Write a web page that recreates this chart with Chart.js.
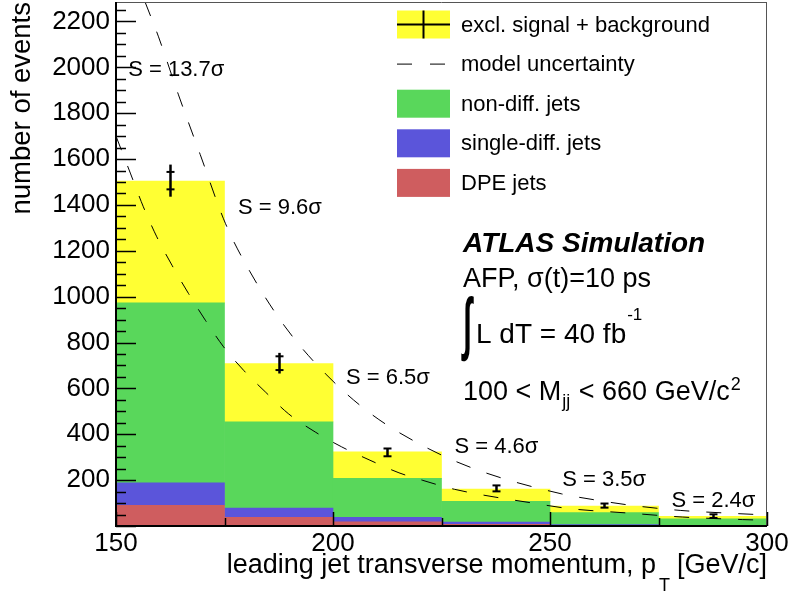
<!DOCTYPE html>
<html>
<head>
<meta charset="utf-8">
<script src="https://cdn.jsdelivr.net/npm/chart.js@4.4.1/dist/chart.umd.min.js"></script>
<style>
  html, body { margin: 0; padding: 0; background: #fff; }
</style>
</head>
<body>
<canvas id="chart" width="792" height="594"></canvas>
<script>
// leading jet pT bins, 25 GeV/c wide (bin centres)
const binCentres = [162.5, 187.5, 212.5, 237.5, 262.5, 287.5];

// stacked contributions, bottom to top
const dpeJets = [90, 38, 18, 7, 3, 1.5];
const singleDiffJets = [98, 40, 20, 10, 3, 1.5];
const nonDiffJets = [785, 376, 170, 91, 52, 28];
const exclSignal = [531, 254, 115, 53, 29, 11];

// pseudo-data with errors
const dataValues = [1506, 710, 321, 164, 89, 43];
const statErrors = [38, 30, 17, 13, 9, 8];
const totalErrors = [70, 45, 17, 13, 9, 8];

// model uncertainty, dashed curves
const upperX = [156.7, 159.8, 164.4, 169.4, 175.2, 180.9, 189.0, 198.2, 208.9, 221.2, 233.5, 252.7, 260, 268, 280, 290, 300];
const upperY = [2285, 2133, 1880, 1620, 1320, 1108, 868, 665, 487, 345, 243, 140, 115, 92, 68, 57, 48];
const lowerX = [150, 153.3, 156.3, 159.4, 162.9, 166.7, 170.6, 174.8, 179.4, 184.4, 189.7, 195.9, 202.0, 208.5, 215.2, 220.7, 228, 247, 254.4, 267.6, 280.6, 294.4, 300];
const lowerY = [1700, 1539, 1392, 1261, 1137, 1014, 897, 781, 679, 585, 490, 410, 345, 287, 232, 199, 160, 97, 76, 57, 39, 28, 25];

// significance per bin
const significance = ['13.7', '9.6', '6.5', '4.6', '3.5', '2.4'];

const FONT = "'Liberation Sans', Arial, Helvetica, sans-serif";
const Y_MAX = 2285;

function seg(ctx, x1, y1, x2, y2) {
    ctx.beginPath();
    ctx.moveTo(x1, y1);
    ctx.lineTo(x2, y2);
    ctx.stroke();
}

// label anchors (data coords, left edge / middle)
const sigAnchors = [[152.8, 1988], [178.1, 1386], [203.0, 644], [228.0, 344], [252.8, 202], [278.0, 109]];

const decorations = {
    id: 'decorations',
    afterDatasetsDraw(chart) {
        const { ctx, chartArea: a, scales: { x, y } } = chart;
        ctx.save();
        ctx.strokeStyle = '#000';
        ctx.setLineDash([]);

        // error bars
        binCentres.forEach((c, i) => {
            const px = Math.round(x.getPixelForValue(c)) + 0.5;
            ctx.lineWidth = 2.5;
            seg(ctx, px, y.getPixelForValue(dataValues[i] - totalErrors[i]), px, y.getPixelForValue(dataValues[i] + totalErrors[i]));
            ctx.lineWidth = 2;
            [-1, 1].forEach(s => {
                const py = y.getPixelForValue(dataValues[i] + s * statErrors[i]);
                seg(ctx, px - 4, py, px + 4, py);
            });
        });

        // frame top / right
        ctx.strokeStyle = '#555';
        ctx.lineWidth = 1;
        seg(ctx, a.left, a.top + 0.5, a.right, a.top + 0.5);
        seg(ctx, a.right - 0.5, a.top, a.right - 0.5, a.bottom);

        // axes
        ctx.strokeStyle = '#000';
        ctx.lineWidth = 2;
        seg(ctx, a.left, a.top, a.left, a.bottom + 1);
        seg(ctx, a.left - 1, a.bottom, a.right, a.bottom);

        // inward ticks
        ctx.lineWidth = 1.5;
        for (let v = 0; v <= Y_MAX; v += 50) {
            const py = Math.round(y.getPixelForValue(v)) + 0.5;
            seg(ctx, a.left, py, a.left + (v % 200 === 0 ? 20 : 10), py);
        }
        for (let v = 150; v <= 300; v += 25) {
            const px = Math.round(x.getPixelForValue(v)) + 0.5;
            seg(ctx, px, a.bottom, px, a.bottom - (v % 50 === 0 ? 14 : 8));
        }

        // significance labels
        ctx.fillStyle = '#000';
        ctx.font = '22px ' + FONT;
        ctx.textBaseline = 'middle';
        ctx.textAlign = 'left';
        significance.forEach((s, i) => {
            ctx.fillText('S = ' + s + 'σ', x.getPixelForValue(sigAnchors[i][0]), y.getPixelForValue(sigAnchors[i][1]));
        });

        // legend
        const ds = chart.data.datasets;
        const items = [ds[3], ds[4], ds[2], ds[1], ds[0]];
        items.forEach((d, i) => {
            const cy = 24.5 + i * 39.6;
            if (d.type === 'line') {
                ctx.lineWidth = 1;
                seg(ctx, 397, cy, 412, cy);
                seg(ctx, 430, cy, 445, cy);
            } else {
                ctx.fillStyle = d.backgroundColor;
                ctx.fillRect(397, cy - 14, 53, 28);
                if (d === ds[3]) {
                    ctx.lineWidth = 2;
                    seg(ctx, 397, cy, 450, cy);
                    seg(ctx, 423.5, cy - 14, 423.5, cy + 14);
                }
            }
            ctx.fillStyle = '#000';
            ctx.font = '22px ' + FONT;
            ctx.textBaseline = 'middle';
            ctx.fillText(d.label, 461, cy + 1);
        });

        // ATLAS block
        ctx.textBaseline = 'alphabetic';
        ctx.font = 'italic bold 28px ' + FONT;
        ctx.fillText('ATLAS Simulation', 463, 252);
        ctx.font = '27px ' + FONT;
        ctx.fillText('AFP, σ(t)=10 ps', 463, 287);

        // integral sign stretched to its box
        ctx.save();
        ctx.font = 'bold 40px ' + FONT;
        const m = ctx.measureText('∫');
        const gw = m.actualBoundingBoxLeft + m.actualBoundingBoxRight;
        const gh = m.actualBoundingBoxAscent + m.actualBoundingBoxDescent;
        ctx.translate(461, 294);
        ctx.scale(13 / gw, 67 / gh);
        ctx.fillText('∫', m.actualBoundingBoxLeft, m.actualBoundingBoxAscent);
        ctx.restore();

        ctx.font = '28px ' + FONT;
        let t = 'L dT = 40 fb';
        ctx.fillText(t, 476, 343);
        let w = ctx.measureText(t).width;
        ctx.font = '17px ' + FONT;
        ctx.fillText('-1', 476 + w + 1, 320);

        ctx.font = '27px ' + FONT;
        t = '100 < M';
        ctx.fillText(t, 463, 400);
        w = ctx.measureText(t).width;
        ctx.font = '18px ' + FONT;
        ctx.fillText('jj', 463 + w + 1, 407);
        const wj = ctx.measureText('jj').width;
        ctx.font = '27px ' + FONT;
        t = ' < 660 GeV/c';
        ctx.fillText(t, 463 + w + wj + 2, 400);
        const w2 = ctx.measureText(t).width;
        ctx.font = '18px ' + FONT;
        ctx.fillText('2', 463 + w + wj + 2 + w2 + 1, 390);

        // x axis title with subscript, right aligned to the axis end
        ctx.font = '27px ' + FONT;
        const tail = '[GeV/c]';
        const tailX = a.right - ctx.measureText(tail).width;
        ctx.fillText(tail, tailX, 573);
        ctx.font = '18px ' + FONT;
        const subW = ctx.measureText('T').width;
        const subX = tailX - 7 - subW;
        ctx.fillText('T', subX, 591);
        ctx.font = '27px ' + FONT;
        ctx.textAlign = 'right';
        ctx.fillText('leading jet transverse momentum, p', subX - 3, 573);

        ctx.restore();
    }
};

new Chart(document.getElementById('chart'), {
    type: 'bar',
    data: {
        labels: binCentres,
        datasets: [
            { label: 'DPE jets', data: dpeJets, backgroundColor: '#cf5d5f', order: 1 },
            { label: 'single-diff. jets', data: singleDiffJets, backgroundColor: '#5b55da', order: 1 },
            { label: 'non-diff. jets', data: nonDiffJets, backgroundColor: '#59d75b', order: 1 },
            { label: 'excl. signal + background', data: exclSignal, backgroundColor: '#ffff33', order: 1 },
            {
                type: 'line', label: 'model uncertainty', yAxisID: 'y2',
                data: upperX.map((v, i) => ({ x: v, y: upperY[i] })),
                borderColor: '#000', borderWidth: 1, borderDash: [15, 17],
                pointRadius: 0, fill: false, cubicInterpolationMode: 'monotone', order: 0
            },
            {
                type: 'line', label: 'model uncertainty (low)', yAxisID: 'y2',
                data: lowerX.map((v, i) => ({ x: v, y: lowerY[i] })),
                borderColor: '#000', borderWidth: 1, borderDash: [15, 17],
                pointRadius: 0, fill: false, cubicInterpolationMode: 'monotone', order: 0
            }
        ]
    },
    options: {
        responsive: false,
        animation: false,
        devicePixelRatio: 1,
        layout: { padding: { left: 0, right: 25, top: 2, bottom: 0 } },
        datasets: { bar: { barPercentage: 1, categoryPercentage: 1, borderWidth: 0 } },
        plugins: { legend: { display: false }, tooltip: { enabled: false } },
        scales: {
            x: {
                type: 'linear', min: 150, max: 300, offset: false, stacked: true,
                grid: { display: false, drawTicks: false },
                border: { display: false },
                ticks: {
                    stepSize: 25, autoSkip: false, maxRotation: 0, padding: 2, color: '#000',
                    font: { size: 26, family: FONT },
                    callback: v => (v % 50 === 0 ? v : '')
                },
                afterFit: s => { s.height = 68; s.paddingLeft = 0; s.paddingRight = 0; }
            },
            y: {
                min: 0, max: Y_MAX, stacked: true,
                grid: { display: false, drawTicks: false },
                border: { display: false },
                ticks: {
                    stepSize: 200, includeBounds: false, padding: 6, color: '#000',
                    font: { size: 26, family: FONT },
                    callback: v => (v === 0 ? '' : v)
                },
                title: {
                    display: true, text: 'number of events', align: 'end', color: '#000',
                    font: { size: 27.5, family: FONT }, padding: { top: 6, bottom: 0 }
                },
                afterFit: s => { s.width = 116; s.paddingTop = 0; s.paddingBottom = 0; }
            },
            y2: { display: false, min: 0, max: Y_MAX }
        }
    },
    plugins: [decorations]
});
</script>
</body>
</html>
